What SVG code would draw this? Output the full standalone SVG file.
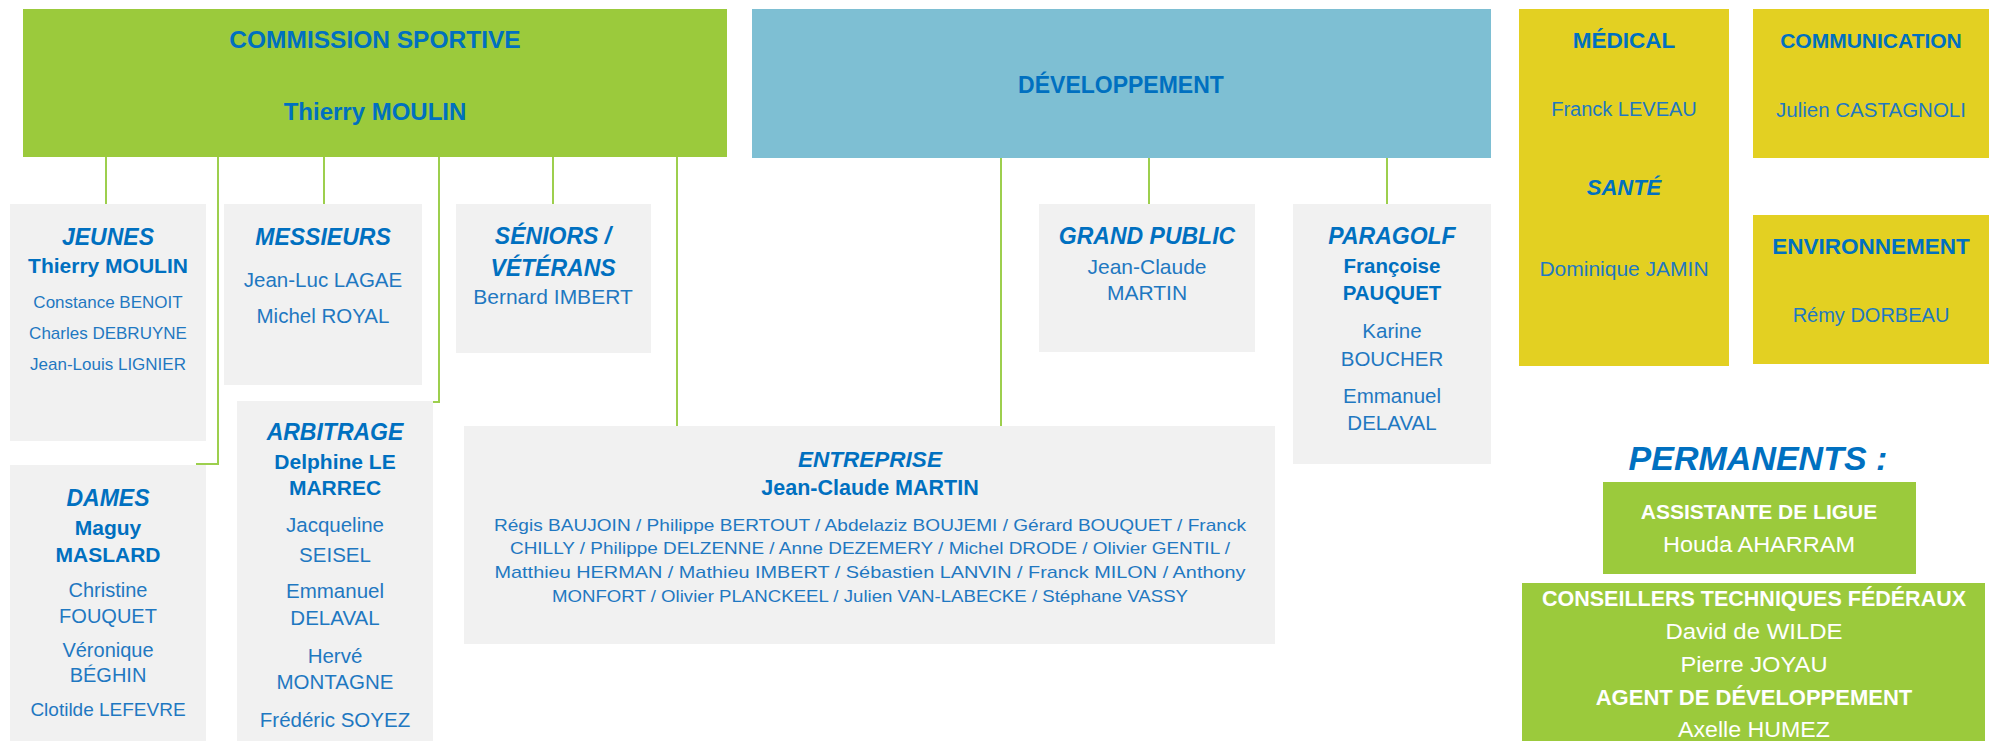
<svg xmlns="http://www.w3.org/2000/svg" width="1997" height="741" viewBox="0 0 1997 741">
<style>
text{font-family:"Liberation Sans",Arial,sans-serif;text-anchor:middle;fill:#0070C0}
.h{font-weight:bold;font-style:italic;font-size:23px}
.b{font-weight:bold;font-size:21px}
.r{font-size:20.5px;fill:#1F78C1}
.s{font-size:17px;fill:#1F78C1}
.w{fill:#FFFFFF}
.gray{fill:#F1F1F1}
.green{fill:#9BCA3C}
.yellow{fill:#E3D022}
.blue{fill:#7EBFD3}
.con{fill:none;stroke:#9DCF4E;stroke-width:2}
</style>
<rect width="1997" height="741" fill="#FFFFFF"/>
<g id="connectors">
<path class="con" d="M106 157V204"/>
<path class="con" d="M218 157V464H196"/>
<path class="con" d="M324 157V204"/>
<path class="con" d="M439 157V402H421"/>
<path class="con" d="M553 157V204"/>
<path class="con" d="M677 157V426"/>
<path class="con" d="M1001 158V426"/>
<path class="con" d="M1149 158V204"/>
<path class="con" d="M1387 158V204"/>
</g>
<g id="commission">
<rect class="green" x="23" y="9" width="704" height="148"/>
<text x="375" y="48" style="font-weight:bold;font-size:24.5px">COMMISSION SPORTIVE</text>
<text x="375" y="120" style="font-weight:bold;font-size:24px">Thierry MOULIN</text>
</g>
<g id="developpement">
<rect class="blue" x="752" y="9" width="739" height="149"/>
<text x="1121" y="93" style="font-weight:bold;font-size:23px">DÉVELOPPEMENT</text>
</g>
<g id="medical">
<rect class="yellow" x="1519" y="9" width="210" height="357"/>
<text x="1624" y="48" style="font-weight:bold;font-size:22.5px">MÉDICAL</text>
<text class="r" x="1624" y="116" style="font-size:20px">Franck LEVEAU</text>
<text x="1624" y="195" style="font-weight:bold;font-style:italic;font-size:22px">SANTÉ</text>
<text class="r" x="1624" y="276" style="font-size:21px">Dominique JAMIN</text>
</g>
<g id="communication">
<rect class="yellow" x="1753" y="9" width="236" height="149"/>
<text x="1871" y="48" style="font-weight:bold;font-size:21px">COMMUNICATION</text>
<text class="r" x="1871" y="117">Julien CASTAGNOLI</text>
</g>
<g id="environnement">
<rect class="yellow" x="1753" y="215" width="236" height="149"/>
<text x="1871" y="254" style="font-weight:bold;font-size:22.5px">ENVIRONNEMENT</text>
<text class="r" x="1871" y="322" style="font-size:20px">Rémy DORBEAU</text>
</g>
<g id="jeunes">
<rect class="gray" x="10" y="204" width="196" height="237"/>
<text class="h" x="108" y="245">JEUNES</text>
<text class="b" x="108" y="273">Thierry MOULIN</text>
<text class="s" x="108" y="308">Constance BENOIT</text>
<text class="s" x="108" y="339">Charles DEBRUYNE</text>
<text class="s" x="108" y="370">Jean-Louis LIGNIER</text>
</g>
<g id="messieurs">
<rect class="gray" x="224" y="204" width="198" height="181"/>
<text class="h" x="323" y="245">MESSIEURS</text>
<text class="r" x="323" y="287">Jean-Luc LAGAE</text>
<text class="r" x="323" y="323">Michel ROYAL</text>
</g>
<g id="seniors">
<rect class="gray" x="456" y="204" width="195" height="149"/>
<text class="h" x="553" y="244">SÉNIORS /</text>
<text class="h" x="553" y="276">VÉTÉRANS</text>
<text class="r" x="553" y="304" style="font-size:21px">Bernard IMBERT</text>
</g>
<g id="dames">
<rect class="gray" x="10" y="465" width="196" height="276"/>
<text class="h" x="108" y="506">DAMES</text>
<text class="b" x="108" y="535">Maguy</text>
<text class="b" x="108" y="562">MASLARD</text>
<text class="r" x="108" y="597" style="font-size:20px">Christine</text>
<text class="r" x="108" y="623" style="font-size:20px">FOUQUET</text>
<text class="r" x="108" y="657" style="font-size:20px">Véronique</text>
<text class="r" x="108" y="682" style="font-size:20px">BÉGHIN</text>
<text class="r" x="108" y="716" style="font-size:19px">Clotilde LEFEVRE</text>
</g>
<g id="arbitrage">
<rect class="gray" x="237" y="401" width="196" height="340"/>
<text class="h" x="335" y="440">ARBITRAGE</text>
<text class="b" x="335" y="469">Delphine LE</text>
<text class="b" x="335" y="495">MARREC</text>
<text class="r" x="335" y="532">Jacqueline</text>
<text class="r" x="335" y="562">SEISEL</text>
<text class="r" x="335" y="598">Emmanuel</text>
<text class="r" x="335" y="625">DELAVAL</text>
<text class="r" x="335" y="663">Hervé</text>
<text class="r" x="335" y="689">MONTAGNE</text>
<text class="r" x="335" y="727">Frédéric SOYEZ</text>
</g>
<g id="grandpublic">
<rect class="gray" x="1039" y="204" width="216" height="148"/>
<text class="h" x="1147" y="244">GRAND PUBLIC</text>
<text class="r" x="1147" y="274" style="font-size:21px">Jean-Claude</text>
<text class="r" x="1147" y="300" style="font-size:21px">MARTIN</text>
</g>
<g id="paragolf">
<rect class="gray" x="1293" y="204" width="198" height="260"/>
<text class="h" x="1392" y="244">PARAGOLF</text>
<text class="b" x="1392" y="273" style="font-size:20.5px">Françoise</text>
<text class="b" x="1392" y="300" style="font-size:20.5px">PAUQUET</text>
<text class="r" x="1392" y="338">Karine</text>
<text class="r" x="1392" y="366">BOUCHER</text>
<text class="r" x="1392" y="403">Emmanuel</text>
<text class="r" x="1392" y="430">DELAVAL</text>
</g>
<g id="entreprise">
<rect class="gray" x="464" y="426" width="811" height="218"/>
<text class="h" x="870" y="467" style="font-size:22.5px">ENTREPRISE</text>
<text class="b" x="870" y="495" style="font-size:21.5px">Jean-Claude MARTIN</text>
<text class="s" x="870" y="531" textLength="752" lengthAdjust="spacingAndGlyphs">Régis BAUJOIN / Philippe BERTOUT / Abdelaziz BOUJEMI / Gérard BOUQUET / Franck</text>
<text class="s" x="870" y="554" textLength="720" lengthAdjust="spacingAndGlyphs">CHILLY / Philippe DELZENNE / Anne DEZEMERY / Michel DRODE / Olivier GENTIL /</text>
<text class="s" x="870" y="578" textLength="751" lengthAdjust="spacingAndGlyphs">Matthieu HERMAN / Mathieu IMBERT / Sébastien LANVIN / Franck MILON / Anthony</text>
<text class="s" x="870" y="602" textLength="636" lengthAdjust="spacingAndGlyphs">MONFORT / Olivier PLANCKEEL / Julien VAN-LABECKE / Stéphane VASSY</text>
</g>
<g id="permanents">
<text x="1758" y="470" style="font-weight:bold;font-style:italic;font-size:34px">PERMANENTS :</text>
</g>
<g id="assistante">
<rect class="green" x="1603" y="482" width="313" height="92"/>
<text class="b w" x="1759" y="519">ASSISTANTE DE LIGUE</text>
<text class="w" x="1759" y="552" style="font-size:22px" textLength="192" lengthAdjust="spacingAndGlyphs">Houda AHARRAM</text>
</g>
<g id="conseillers">
<rect class="green" x="1522" y="583" width="463" height="158"/>
<text class="b w" x="1754" y="606" style="font-size:21.5px">CONSEILLERS TECHNIQUES FÉDÉRAUX</text>
<text class="w" x="1754" y="639" style="font-size:22px" textLength="177" lengthAdjust="spacingAndGlyphs">David de WILDE</text>
<text class="w" x="1754" y="672" style="font-size:22px" textLength="147" lengthAdjust="spacingAndGlyphs">Pierre JOYAU</text>
<text class="b w" x="1754" y="705" style="font-size:22px">AGENT DE DÉVELOPPEMENT</text>
<text class="w" x="1754" y="737" style="font-size:22px" textLength="152" lengthAdjust="spacingAndGlyphs">Axelle HUMEZ</text>
</g>
</svg>
